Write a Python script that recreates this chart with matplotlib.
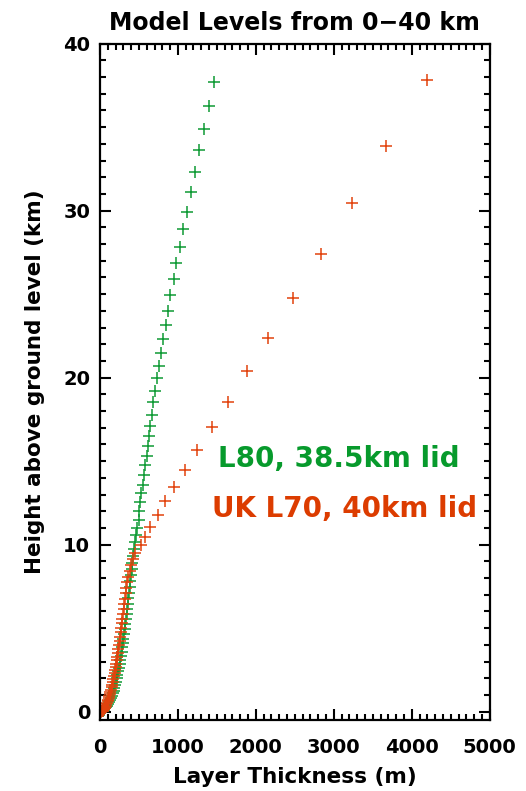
import matplotlib
matplotlib.use('Agg')
import matplotlib.pyplot as plt
from matplotlib.ticker import MultipleLocator

# L80 levels, 38.5 km lid (green)
l80_height = [0.01, 0.04, 0.08, 0.13, 0.19, 0.26, 0.35, 0.45, 0.56, 0.68,
              0.81, 0.95, 1.10, 1.26, 1.43, 1.61, 1.80, 2.00, 2.20, 2.41,
              2.63, 2.86, 3.09, 3.33, 3.58, 3.84, 4.10, 4.37, 4.65, 4.93,
              5.22, 5.52, 5.82, 6.13, 6.45, 6.78, 7.12, 7.46, 7.81, 8.17,
              8.54, 8.92, 9.31, 9.71, 10.13, 10.56, 11.00, 11.49, 12.01, 12.57,
              13.09, 13.57, 14.15, 14.75, 15.29, 15.89, 16.53, 17.13, 17.79, 18.53,
              19.20, 19.95, 20.70, 21.50, 22.32, 23.18, 24.00, 24.92, 25.92, 26.88,
              27.84, 28.88, 29.94, 31.12, 32.33, 33.63, 34.91, 36.29, 37.71]
l80_thick = [20, 33, 46, 58, 70, 82, 94, 106, 118, 130,
             142, 153, 164, 175, 185, 195, 205, 215, 224, 233,
             242, 251, 260, 268, 277, 285, 293, 301, 309, 317,
             325, 333, 341, 349, 357, 365, 373, 381, 389, 398,
             407, 417, 427, 437, 448, 462, 478, 495, 504, 517,
             529, 547, 564, 581, 599, 612, 628, 645, 663, 683,
             709, 735, 760, 782, 812, 842, 872, 901, 945, 978,
             1022, 1068, 1112, 1163, 1218, 1273, 1333, 1394, 1462]

# UK L70 levels, 40 km lid (orange)
l70_height = [0.004, 0.015, 0.033, 0.059, 0.092, 0.132, 0.179, 0.234, 0.296, 0.366,
              0.443, 0.527, 0.619, 0.717, 0.824, 0.937, 1.058, 1.186, 1.321, 1.464,
              1.614, 1.771, 1.936, 2.108, 2.288, 2.474, 2.668, 2.869, 3.078, 3.294,
              3.517, 3.748, 3.986, 4.231, 4.484, 4.743, 5.011, 5.285, 5.567, 5.856,
              6.152, 6.456, 6.767, 7.086, 7.412, 7.745, 8.085, 8.433, 8.788, 9.150,
              9.520, 9.95, 10.45, 11.05, 11.75, 12.61, 13.45, 14.49, 15.65, 17.03,
              18.53, 20.37, 22.38, 24.74, 27.38, 30.46, 33.89, 37.83]
l70_thick = [11, 18, 26, 33, 40, 48, 55, 62, 70, 77,
             84, 92, 99, 106, 114, 121, 128, 135, 143, 150,
             157, 165, 172, 179, 187, 194, 201, 209, 216, 223,
             231, 238, 245, 253, 260, 267, 275, 282, 289, 297,
             304, 311, 319, 330, 340, 352, 366, 382, 400, 422,
             450, 530, 581, 645, 740, 829, 953, 1094, 1240, 1436,
             1637, 1888, 2158, 2478, 2833, 3235, 3676, 4192]

green = '#0e9a34'
orange = '#e2420d'

plt.rcParams['font.weight'] = 'bold'

fig = plt.figure(figsize=(5.26, 7.91), dpi=100)
ax = fig.add_axes([0.190, 0.0898, 0.741, 0.855])

ax.plot(l80_thick, l80_height, '+', color=green, markersize=9, markeredgewidth=1.1)
ax.plot(l70_thick, l70_height, '+', color=orange, markersize=9, markeredgewidth=1.1)

ax.set_xlim(0, 5000)
ax.set_ylim(-0.5, 40)
ax.xaxis.set_major_locator(MultipleLocator(1000))
ax.xaxis.set_minor_locator(MultipleLocator(100))
ax.yaxis.set_major_locator(MultipleLocator(10))
ax.yaxis.set_minor_locator(MultipleLocator(1))
ax.tick_params(which='both', direction='in', top=True, right=True, width=1.5)
ax.tick_params(which='major', length=8, labelsize=14)
ax.tick_params(which='minor', length=4)
ax.tick_params(axis='x', which='major', pad=13)
ax.tick_params(axis='y', which='major', pad=7)
for s in ax.spines.values():
    s.set_linewidth(1.6)

ax.set_xlabel('Layer Thickness (m)', fontsize=15.5, fontweight='bold', labelpad=7)
ax.set_ylabel('Height above ground level (km)', fontsize=15.5, fontweight='bold', labelpad=13)
ax.set_title('Model Levels from 0\u221240 km', fontsize=17, fontweight='bold', pad=10)

ax.text(1510, 15.15, 'L80, 38.5km lid', color='#079a2c', fontsize=20, fontweight='bold', va='center')
ax.text(1440, 12.15, 'UK L70, 40km lid', color='#dc3c00', fontsize=20, fontweight='bold', va='center')

fig.savefig('out.png', dpi=100)
